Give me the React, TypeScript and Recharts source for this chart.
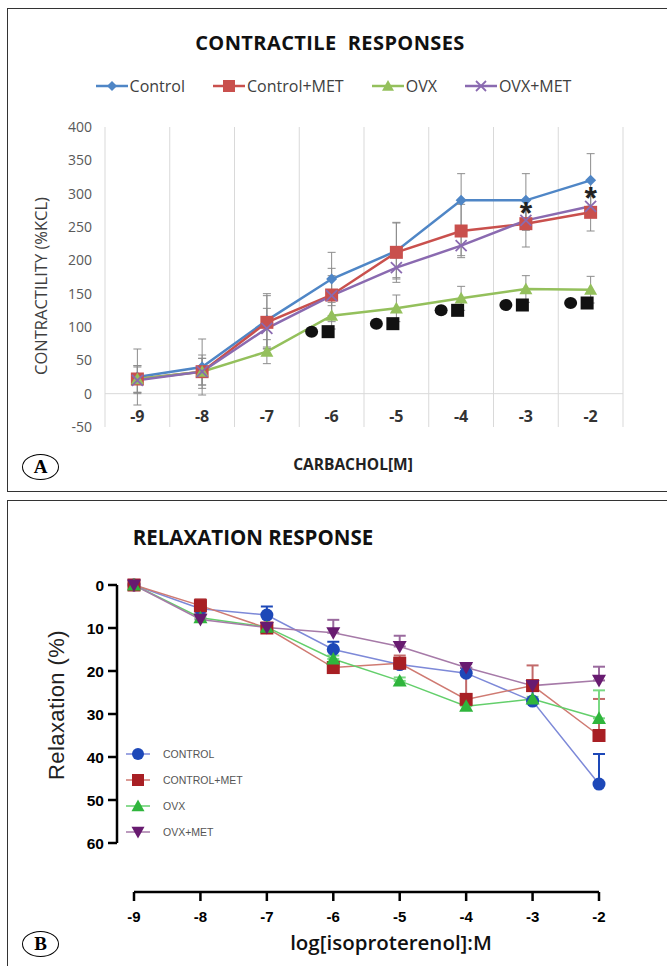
import React from 'react';
import { ComposedChart, Line, XAxis, YAxis, ErrorBar, ReferenceLine, Legend } from 'recharts';

// shared concentrations (log M)
const doses = [-9, -8, -7, -6, -5, -4, -3, -2];

// Panel A – contractile responses to carbachol (%KCL)
const controlA = [25, 40, 110, 172, 214, 290, 290, 320];
const controlMetA = [22, 33, 107, 148, 212, 244, 255, 272];
const ovxA = [22, 33, 63, 117, 128, 143, 157, 156];
const ovxMetA = [20, 33, 98, 147, 189, 222, 260, 281];
const controlErrA = [42, 42, 40, 40, 42, 40, 40, 40];
const controlMetErrA = [20, 20, 40, 40, 45, 40, 35, 28];
const ovxErrA = [20, 20, 18, 20, 20, 18, 20, 20];
const ovxMetErrA = [20, 25, 30, 30, 15, 15, 15, 15];
const sigOvxA = [null, null, null, 93, 105, 125, 133, 136];
const starA = [null, null, null, null, null, null, 282, 304];
const ticksA = [-50, 0, 50, 100, 150, 200, 250, 300, 350, 400];

// Panel B – relaxation responses to isoproterenol (%)
const controlB = [0, 5.5, 7, 15, 18.5, 20.5, 27, 46.3];
const controlMetB = [0, 4.8, 10, 19.2, 18.2, 26.6, 23.4, 35];
const ovxB = [0, 7.6, 9.8, 17.2, 22.3, 28.2, 26.5, 31];
const ovxMetB = [0, 8, 9.9, 11.1, 14.3, 19.2, 23.4, 22.2];
const controlErrB = [0, 1.5, 2, 1.8, 1, 1.2, 3.5, 7];
const controlMetErrB = [0, 1.5, 0.5, 0.5, 1.8, 6.5, 4.7, 8.5];
const ovxErrB = [0, 0.5, 0.5, 0.8, 0.8, 0.5, 0.5, 6.5];
const ovxMetErrB = [0, 1.5, 0.5, 3, 2.5, 0.8, 0.5, 3.2];
const ticksB = [0, 10, 20, 30, 40, 50, 60];

const gridEdges = [...doses.map(d => d - 0.5), doses[doses.length - 1] + 0.5];

const dataA = doses.map((dose, i) => ({
  dose,
  control: controlA[i],
  controlErr: controlErrA[i],
  controlMet: controlMetA[i],
  controlMetErr: controlMetErrA[i],
  ovx: ovxA[i],
  ovxErr: ovxErrA[i],
  ovxMet: ovxMetA[i],
  ovxMetErr: ovxMetErrA[i],
  sig: sigOvxA[i],
  star: starA[i],
}));

const dataB = doses.map((dose, i) => ({
  dose,
  control: controlB[i],
  controlErr: [controlErrB[i], 0],
  controlMet: controlMetB[i],
  controlMetErr: [controlMetErrB[i], 0],
  ovx: ovxB[i],
  ovxErr: [ovxErrB[i], 0],
  ovxMet: ovxMetB[i],
  ovxMetErr: [ovxMetErrB[i], 0],
}));

type Shape = 'diamond' | 'square' | 'triangle' | 'cross' | 'circle' | 'invTriangle';

const Marker = ({ shape, cx, cy, size, fill }: { shape: Shape; cx: number; cy: number; size: number; fill: string }) => {
  const h = size / 2;
  switch (shape) {
    case 'diamond':
      return <polygon points={`${cx},${cy - h} ${cx + h},${cy} ${cx},${cy + h} ${cx - h},${cy}`} fill={fill} />;
    case 'square':
      return <rect x={cx - h} y={cy - h} width={size} height={size} fill={fill} />;
    case 'triangle':
      return <polygon points={`${cx},${cy - h} ${cx + h},${cy + h * 0.8} ${cx - h},${cy + h * 0.8}`} fill={fill} />;
    case 'invTriangle':
      return <polygon points={`${cx},${cy + h} ${cx + h},${cy - h * 0.8} ${cx - h},${cy - h * 0.8}`} fill={fill} />;
    case 'circle':
      return <circle cx={cx} cy={cy} r={h} fill={fill} />;
    default:
      return (
        <g stroke={fill} strokeWidth={1.8}>
          <line x1={cx - h} y1={cy - h} x2={cx + h} y2={cy + h} />
          <line x1={cx - h} y1={cy + h} x2={cx + h} y2={cy - h} />
        </g>
      );
  }
};

const dotOf = (shape: Shape, size: number, fill: string) => (p: any) => {
  if (p.cx == null || p.cy == null || p.value == null) return <g key={`e-${p.index}`} />;
  return <Marker key={`m-${shape}-${p.index}`} shape={shape} cx={p.cx} cy={p.cy} size={size} fill={fill} />;
};

const seriesA = [
  { key: 'control', name: 'Control', color: '#4f86c6', shape: 'diamond' as Shape, size: 11 },
  { key: 'controlMet', name: 'Control+MET', color: '#c9504d', shape: 'square' as Shape, size: 13 },
  { key: 'ovx', name: 'OVX', color: '#94c05c', shape: 'triangle' as Shape, size: 13 },
  { key: 'ovxMet', name: 'OVX+MET', color: '#8a6ab0', shape: 'cross' as Shape, size: 11 },
];

const seriesB = [
  { key: 'control', name: 'CONTROL', color: '#1d48b8', line: '#7d89d8', err: '#1d48b8', shape: 'circle' as Shape, size: 13 },
  { key: 'controlMet', name: 'CONTROL+MET', color: '#a81f24', line: '#cf7a72', err: '#c26a6a', shape: 'square' as Shape, size: 13 },
  { key: 'ovx', name: 'OVX', color: '#2fb53c', line: '#63cf6b', err: '#7ad983', shape: 'triangle' as Shape, size: 14 },
  { key: 'ovxMet', name: 'OVX+MET', color: '#681b70', line: '#a67aa8', err: '#9a6a9e', shape: 'invTriangle' as Shape, size: 14 },
];

const fontA = '"Open Sans", sans-serif';
const fontB = '"Liberation Sans", Arial, sans-serif';

const SigDot = (p: any) => {
  if (p.cx == null || p.cy == null || p.value == null) return <g key={`s-${p.index}`} />;
  return (
    <g key={`s-${p.index}`} fill="#111">
      <ellipse cx={p.cx - 20} cy={p.cy} rx={6.5} ry={6} />
      <rect x={p.cx - 10} y={p.cy - 6.5} width={13} height={13} />
    </g>
  );
};

const StarDot = (p: any) => {
  if (p.cx == null || p.cy == null || p.value == null) return <g key={`t-${p.index}`} />;
  return (
    <text key={`t-${p.index}`} x={p.cx} y={p.cy + 18} textAnchor="middle" fontSize={32} fontWeight={700} fontFamily={fontB} fill="#222">
      *
    </text>
  );
};

const LegendA = () => (
  <div style={{ display: 'flex', justifyContent: 'center', gap: 28, fontFamily: fontA, fontSize: 16, color: '#404040' }}>
    {seriesA.map(s => (
      <div key={s.key} style={{ display: 'flex', alignItems: 'center' }}>
        <svg width={32} height={16}>
          <line x1={0} y1={8} x2={32} y2={8} stroke={s.color} strokeWidth={2.5} />
          <Marker shape={s.shape} cx={16} cy={8} size={s.size - 1} fill={s.color} />
        </svg>
        <span style={{ marginLeft: 2 }}>{s.name}</span>
      </div>
    ))}
  </div>
);

const LegendB = () => (
  <div style={{ fontFamily: fontB, fontSize: 10.5, color: '#555' }}>
    {seriesB.map(s => (
      <div key={s.key} style={{ display: 'flex', alignItems: 'center', height: 26 }}>
        <svg width={24} height={16}>
          <line x1={0} y1={8} x2={24} y2={8} stroke={s.line} strokeWidth={1.5} />
          <Marker shape={s.shape} cx={12} cy={8} size={s.size - 1} fill={s.color} />
        </svg>
        <span style={{ marginLeft: 13 }}>{s.name}</span>
      </div>
    ))}
  </div>
);

const TickA = ({ x, y, payload }: any) => (
  <text x={x} y={y - 9} textAnchor="middle" dominantBaseline="middle" fontSize={16} fontWeight={700} fontFamily={fontA} fill="#333">
    {payload.value}
  </text>
);

const GAP_B = 49;
const TickB = ({ x, y, payload }: any) => (
  <g>
    <line x1={x} y1={y + GAP_B} x2={x} y2={y + GAP_B + 9} stroke="#000" strokeWidth={2.5} />
    <text x={x} y={y + GAP_B + 30} textAnchor="middle" fontSize={15} fontWeight={700} fontFamily={fontB} fill="#000">
      {payload.value}
    </text>
  </g>
);

const Abs = ({ x, y, rotate, style, children }: any) => (
  <div
    style={{
      position: 'absolute',
      left: x,
      top: y,
      transform: `translate(-50%, -50%)${rotate ? ' rotate(-90deg)' : ''}`,
      whiteSpace: 'nowrap',
      ...style,
    }}
  >
    {children}
  </div>
);

const PanelTag = ({ x, y, label }: { x: number; y: number; label: string }) => (
  <div
    style={{
      position: 'absolute',
      left: x - 18,
      top: y - 12,
      width: 35,
      height: 24,
      border: '1px solid #000',
      borderRadius: '50%',
      display: 'flex',
      alignItems: 'center',
      justifyContent: 'center',
      fontFamily: '"Liberation Serif", serif',
      fontWeight: 700,
      fontSize: 19,
    }}
  >
    {label}
  </div>
);

export default function App() {
  return (
    <div style={{ position: 'absolute', left: 0, top: 0, width: 667, height: 966, background: '#fff', overflow: 'hidden' }}>
      {/* frames */}
      <div style={{ position: 'absolute', left: 7, top: 8, width: 670, height: 482, borderTop: '1.5px solid #333', borderLeft: '1.5px solid #333', borderBottom: '1.5px solid #333' }} />
      <div style={{ position: 'absolute', left: 7, top: 500, width: 670, height: 480, borderTop: '1.5px solid #333', borderLeft: '1.5px solid #333' }} />

      {/* Panel A */}
      <div style={{ position: 'absolute', left: 0, top: 0 }}>
        <ComposedChart width={667} height={490} data={dataA} margin={{ top: 127, right: 44, bottom: 0, left: 0 }}>
          <XAxis
            dataKey="dose"
            type="number"
            domain={[gridEdges[0], gridEdges[gridEdges.length - 1]]}
            ticks={doses}
            height={63}
            axisLine={false}
            tickLine={false}
            tickSize={0}
            tickMargin={0}
            tick={<TickA />}
          />
          <YAxis
            domain={[-50, 400]}
            ticks={ticksA}
            width={105}
            axisLine={false}
            tickLine={false}
            tickSize={0}
            tickMargin={13}
            tick={{ fill: '#595959', fontSize: 14, fontFamily: fontA }}
          />
          {gridEdges.map(e => (
            <ReferenceLine key={e} x={e} stroke="#d9d9d9" strokeWidth={1} />
          ))}
          <ReferenceLine y={0} stroke="#d9d9d9" strokeWidth={1} />
          <Legend
            verticalAlign="middle"
            align="center"
            wrapperStyle={{ top: 75, left: 0, width: 667 }}
            content={<LegendA />}
          />
          {seriesA.map(s => (
            <Line
              key={s.key}
              dataKey={s.key}
              name={s.name}
              stroke={s.color}
              strokeWidth={2.5}
              dot={dotOf(s.shape, s.size, s.color)}
              activeDot={false}
              isAnimationActive={false}
            >
              <ErrorBar dataKey={`${s.key}Err`} stroke="#8c8c8c" strokeWidth={1} width={4} />
            </Line>
          ))}
          <Line dataKey="sig" stroke="none" legendType="none" dot={SigDot} activeDot={false} isAnimationActive={false} />
          <Line dataKey="star" stroke="none" legendType="none" dot={StarDot} activeDot={false} isAnimationActive={false} />
        </ComposedChart>
      </div>
      <Abs x={330} y={42} style={{ fontFamily: fontA, fontWeight: 700, fontSize: 20, color: '#111', letterSpacing: 0.4 }}>
        CONTRACTILE&nbsp;&nbsp;RESPONSES
      </Abs>
      <Abs x={40} y={286} rotate style={{ fontFamily: fontA, fontSize: 16.5, color: '#404040' }}>
        CONTRACTILITY (%KCL)
      </Abs>
      <Abs x={353} y={464} style={{ fontFamily: fontA, fontWeight: 700, fontSize: 15.5, color: '#222' }}>
        CARBACHOL[M]
      </Abs>
      <PanelTag x={40} y={466} label="A" />

      {/* Panel B */}
      <div style={{ position: 'absolute', left: 0, top: 500 }}>
        <ComposedChart width={667} height={466} data={dataB} margin={{ top: 85, right: 68, bottom: 93, left: 0 }}>
          <XAxis
            dataKey="dose"
            type="number"
            domain={[doses[0], doses[doses.length - 1]]}
            ticks={doses}
            padding={{ left: 17, right: 0 }}
            height={30}
            axisLine={false}
            tickLine={false}
            tickSize={0}
            tickMargin={0}
            tick={<TickB />}
          />
          <YAxis
            reversed
            domain={[0, 60]}
            ticks={ticksB}
            width={117}
            axisLine={{ stroke: '#000', strokeWidth: 2.5 }}
            tickLine={{ stroke: '#000', strokeWidth: 2.5 }}
            tickSize={9}
            tickMargin={4}
            tick={{ fill: '#000', fontSize: 15.5, fontWeight: 700, fontFamily: fontB }}
          />
          <ReferenceLine
            segment={[{ x: doses[0], y: 71.4 }, { x: doses[doses.length - 1], y: 71.4 }]}
            ifOverflow="visible"
            stroke="#000"
            strokeWidth={2.5}
          />
          <Legend
            verticalAlign="middle"
            align="center"
            wrapperStyle={{ top: 241, left: 126, width: 160 }}
            content={<LegendB />}
          />
          {seriesB.map(s => (
            <Line
              key={s.key}
              dataKey={s.key}
              name={s.name}
              stroke={s.line}
              strokeWidth={1.5}
              dot={dotOf(s.shape, s.size, s.color)}
              activeDot={false}
              isAnimationActive={false}
            >
              <ErrorBar dataKey={`${s.key}Err`} stroke={s.err} strokeWidth={2} width={6} />
            </Line>
          ))}
        </ComposedChart>
      </div>
      <Abs x={253} y={537} style={{ fontFamily: fontA, fontWeight: 700, fontSize: 20.5, color: '#111' }}>
        RELAXATION RESPONSE
      </Abs>
      <Abs x={57} y={705} rotate style={{ fontFamily: fontB, fontSize: 22, color: '#222', letterSpacing: 0.4 }}>
        Relaxation (%)
      </Abs>
      <Abs x={391} y={942} style={{ fontFamily: fontA, fontWeight: 600, fontSize: 20.5, color: '#111' }}>
        log[isoproterenol]:M
      </Abs>
      <PanelTag x={40} y={943} label="B" />
    </div>
  );
}
